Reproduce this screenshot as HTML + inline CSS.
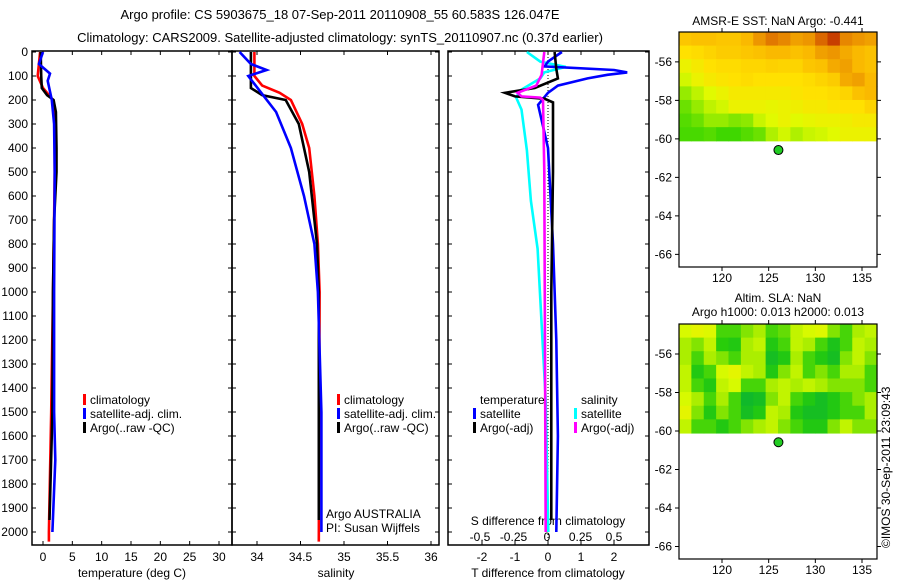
<!DOCTYPE html>
<html><head><meta charset="utf-8"><style>
body{margin:0;background:#fff;}
svg{display:block;font-family:"Liberation Sans",sans-serif;}
text{font-size:12px;fill:#000;}
</style></head><body>
<svg id="c" width="900" height="580">
<text x="340" y="19" text-anchor="middle" style="font-size:13px">Argo profile: CS 5903675_18 07-Sep-2011 20110908_55 60.583S 126.047E</text>
<text x="340" y="42" text-anchor="middle" style="font-size:13px">Climatology: CARS2009. Satellite-adjusted climatology: synTS_20110907.nc (0.37d earlier)</text>
<text x="778" y="25" text-anchor="middle">AMSR-E SST: NaN Argo: -0.441</text>
<text x="778" y="302" text-anchor="middle">Altim. SLA: NaN</text>
<text x="778" y="316" text-anchor="middle">Argo h1000: 0.013 h2000: 0.013</text>
<text x="0" y="0" transform="translate(890,548) rotate(-90)">©IMOS 30-Sep-2011 23:09:43</text>
</svg>
<script>
// ---- depth axis ----
const depthTicks=[0,100,200,300,400,500,600,700,800,900,1000,1100,1200,1300,1400,1500,1600,1700,1800,1900,2000];
// ---- temperature panel data ----
const tClimDepth=[0,100,150,200,300,500,700,1000,1500,2000,2040];
const tClimVal=[-0.5,-0.9,0,1.7,2.0,2.0,1.9,1.7,1.4,1.0,1.0];
const tSatDepth=[0,50,90,120,200,300,500,1000,1500,1700,2000];
const tSatVal=[0.0,-0.7,1.2,0.8,1.5,1.9,2.0,1.9,1.9,2.1,1.6];
const tArgoDepth=[0,100,150,180,200,250,400,500,700,1000,1500,1950];
const tArgoVal=[-0.4,-0.3,-0.2,0.7,1.8,2.2,2.3,2.3,1.9,1.7,1.6,1.1];
const tTicks=[0,5,10,15,20,25,30];
// ---- salinity panel data ----
const sClimDepth=[0,100,140,170,200,300,400,600,800,1000,2040];
const sClimVal=[33.97,33.97,34.06,34.26,34.39,34.52,34.6,34.66,34.7,34.72,34.71];
const sSatDepth=[0,50,75,100,180,250,400,600,800,1000,1500,2000];
const sSatVal=[33.8,33.93,34.11,33.9,34.07,34.22,34.39,34.54,34.66,34.7,34.74,34.74];
const sArgoDepth=[0,150,180,200,300,500,800,1000,1950];
const sArgoVal=[33.93,33.93,34.06,34.33,34.48,34.6,34.69,34.71,34.71];
const sTicks=[34,34.5,35,35.5,36];
// ---- difference panel data ----
const dTSatDepth=[0,40,60,75,85,95,110,140,170,220,400,800,1200,1600,2000];
const dTSatVal=[0.42,0,-0.1,2.0,2.4,1.8,1.2,0.3,0.0,-0.3,0.0,0.15,0.25,0.3,0.25];
const dTArgoDepth=[0,70,110,150,170,185,195,210,500,1000,1500,1950];
const dTArgoVal=[0.2,0.25,0.3,-0.4,-1.3,-1.0,-0.1,0.15,0.15,0.1,0.1,0.1];
const dSSatDepth=[0,40,62,85,110,160,190,240,410,620,820,1030,1450,2000];
const dSSatVal=[-0.15,-0.05,0.14,-0.02,-0.05,-0.2,-0.23,-0.19,-0.15,-0.12,-0.07,-0.05,-0.01,0.01];
const dSArgoDepth=[0,95,140,170,185,190,200,500,2000];
const dSArgoVal=[-0.02,-0.04,-0.08,-0.22,-0.19,-0.05,-0.03,-0.02,-0.01];
const dTTicks=[-2,-1,0,1,2];
const dSTicks=[-0.5,-0.25,0,0.25,0.5];
const dSTickLabels=["-0.5","-0.25","0","0.25","0.5"];
// ---- maps ----
const lonTicks=[120,125,130,135];
const latTicks=[-56,-58,-60,-62,-64,-66];
const floatLon=[126.047];
const floatLat=[-60.583];
const sstGrid=[
[.7,.72,.72,.7,.7,.75,.82,.88,.85,.8,.82,.9,.95,.85,.82,.8],
[.6,.62,.65,.68,.68,.7,.72,.75,.75,.72,.75,.8,.82,.78,.75,.72],
[.5,.55,.6,.62,.62,.64,.64,.66,.65,.65,.7,.72,.78,.8,.75,.72],
[.42,.5,.55,.58,.6,.62,.6,.6,.6,.6,.62,.65,.68,.78,.8,.75],
[.3,.38,.45,.5,.55,.55,.55,.55,.55,.58,.6,.6,.62,.65,.72,.75],
[.2,.3,.38,.42,.5,.5,.5,.48,.5,.52,.55,.55,.58,.6,.6,.65],
[.15,.2,.3,.3,.25,.28,.4,.45,.5,.45,.48,.5,.5,.52,.55,.55],
[.12,.12,.15,.1,.1,.15,.2,.35,.42,.35,.4,.42,.45,.5,.5,.5]];
const slaGrid=[
[.7,.8,.75,.3,.3,.4,.5,.3,.35,.6,.7,.75,.4,.3,.5,.6],
[.5,.4,.6,.25,.2,.5,.6,.2,.3,.6,.5,.3,.15,.3,.6,.5],
[.5,.3,.5,.4,.3,.5,.5,.1,.2,.5,.3,.2,.1,.4,.6,.4],
[.6,.2,.3,.7,.8,.6,.5,.2,.4,.6,.3,.4,.3,.5,.5,.3],
[.6,.3,.2,.6,.7,.3,.3,.5,.6,.5,.6,.5,.4,.4,.4,.3],
[.7,.5,.3,.5,.3,.05,.1,.4,.6,.3,.2,.1,.2,.3,.4,.5],
[.8,.4,.2,.4,.3,.1,.2,.6,.5,.2,.1,.1,.2,.3,.3,.5],
[.6,.3,.3,.2,.3,.4,.5,.6,.4,.3,.2,.2,.4,.6,.4,.4]];

const NS="http://www.w3.org/2000/svg";
const svg=document.getElementById('c');
function mk(tag,attrs,parent){const e=document.createElementNS(NS,tag);for(const k in attrs)e.setAttribute(k,attrs[k]);(parent||svg).appendChild(e);return e;}
function txt(x,y,s,anchor){const e=mk('text',{x:x,y:y,'text-anchor':anchor||'start'});e.textContent=s;return e;}

const PT=51,PB=545;
const yD=d=>52+d*0.24;
function xLin(v0,x0,v1,x1){return v=>x0+(v-v0)*(x1-x0)/(v1-v0);}
const xT=xLin(0,43,30,219);
const xS=xLin(34,257,36,431);
const xDT=xLin(0,548,2,614);
const xDS=xLin(0,547,0.5,614);

function panel(x0,x1,name){
  const r=mk('rect',{x:x0,y:PT,width:x1-x0,height:PB-PT,fill:'none',stroke:'#000','stroke-width':1.5});
  
  
  depthTicks.forEach(d=>{
    const t=mk('path',{d:`M${x0},${yD(d)}h4M${x1},${yD(d)}h-4`,stroke:'#000','stroke-width':1});
    
    
  });
}
panel(32,232,'temperature-panel');
panel(232,439,'salinity-panel');
panel(448,649,'difference-panel');
depthTicks.forEach(d=>{
  const t=txt(28,yD(d)+4,String(d),'end');
  
  
});
function xticks(ticks,labels,fx,y,name){
  ticks.forEach((v,i)=>{
    const x=fx(v);
    const p=mk('path',{d:`M${x},${PB}v-4M${x},${PT}v4`,stroke:'#000','stroke-width':1});
    
    
    const t=txt(x,y,labels[i],'middle');
    
    
  });
}
xticks(tTicks,tTicks.map(String),xT,561,'temperature');
xticks(sTicks,sTicks.map(String),xS,561,'salinity');
xticks(dTTicks,dTTicks.map(String),xDT,561,'t-diff');
dSTicks.forEach((v,i)=>{
  const t=txt(xDS(v),541,dSTickLabels[i],'middle');
  
  
});
let e;
e=txt(132,577,'temperature (deg C)','middle');
e=txt(336,577,'salinity','middle');
e=txt(548,577,'T difference from climatology','middle');
e=txt(548,525,'S difference from climatology','middle');
// zero dotted line
e=mk('line',{x1:xDT(0),x2:xDT(0),y1:PT,y2:PB,stroke:'#000','stroke-width':1,'stroke-dasharray':'1,2'});



function series(depths,vals,fx,color,name){
  const pts=depths.map((d,i)=>fx(vals[i]).toFixed(1)+','+yD(d).toFixed(1)).join(' ');
  const p=mk('polyline',{points:pts,fill:'none',stroke:color,'stroke-width':2.6,'stroke-linejoin':'miter'});
  
  
}
series(tClimDepth,tClimVal,xT,'#f00','temperature-climatology-line');
series(tArgoDepth,tArgoVal,xT,'#000','temperature-argo-line');
series(tSatDepth,tSatVal,xT,'#00f','temperature-satellite-line');
series(sClimDepth,sClimVal,xS,'#f00','salinity-climatology-line');
series(sArgoDepth,sArgoVal,xS,'#000','salinity-argo-line');
series(sSatDepth,sSatVal,xS,'#00f','salinity-satellite-line');
series(dSSatDepth,dSSatVal,xDS,'#0ff','s-diff-satellite-line');
series(dTSatDepth,dTSatVal,xDT,'#00f','t-diff-satellite-line');
series(dTArgoDepth,dTArgoVal,xDT,'#000','t-diff-argo-line');
series(dSArgoDepth,dSArgoVal,xDS,'#f0f','s-diff-argo-line');

function legend(x,y,items,name){
  items.forEach((it,i)=>{
    const yy=y+i*14;
    if(it[1]){const b=mk('rect',{x:x,y:yy-10,width:3,height:11,fill:it[1]});
      
      }
    const t=txt(x+7,yy,it[0]);
    
    
  });
}
legend(83,404,[['climatology','#f00'],['satellite-adj. clim.','#00f'],['Argo(..raw -QC)','#000']],'temperature-legend');
legend(337,404,[['climatology','#f00'],['satellite-adj. clim.','#00f'],['Argo(..raw -QC)','#000']],'salinity-legend');
legend(473,404,[['temperature',null],['satellite','#00f'],['Argo(-adj)','#000']],'t-diff-legend');
legend(574,404,[['salinity',null],['satellite','#0ff'],['Argo(-adj)','#f0f']],'s-diff-legend');
e=txt(326,518,'Argo AUSTRALIA');
e=txt(326,532,'PI: Susan Wijffels');

// maps
function lerpC(stops,v){
  for(let i=1;i<stops.length;i++){if(v<=stops[i][0]){const a=stops[i-1],b=stops[i];const f=(v-a[0])/(b[0]-a[0]);
    return 'rgb('+[1,2,3].map(k=>Math.round(a[k]+(b[k]-a[k])*f)).join(',')+')';}}
  const l=stops[stops.length-1];return `rgb(${l[1]},${l[2]},${l[3]})`;
}
const sstStops=[[0,20,205,0],[0.3,150,235,0],[0.45,225,250,0],[0.6,255,225,0],[0.75,250,185,0],[0.88,225,120,0],[1,180,20,0]];
const slaStops=[[0,10,180,50],[0.25,40,205,10],[0.45,160,235,0],[0.7,215,250,0],[1,255,235,0]];
function map(top,latTop,grid,stops,name){
  const L=679,R=877,B=top+235;
  const xL=xLin(120,722,135,862);
  const yL=v=>top+(latTop-v)*19.25;
  const rows=grid.length,cols=grid[0].length;
  const dataBottom=yL(-60.1);
  const cw=(R-L)/cols,ch=(dataBottom-top)/rows;
  grid.forEach((row,r)=>row.forEach((v,c)=>{
    const cell=mk('rect',{x:(L+c*cw).toFixed(2),y:(top+r*ch).toFixed(2),width:(cw+0.6).toFixed(2),height:(ch+0.6).toFixed(2),fill:lerpC(stops,v)});
    
    
  }));
  const fr=mk('rect',{x:L,y:top,width:R-L,height:B-top,fill:'none',stroke:'#000','stroke-width':1.2});
  
  
  latTicks.forEach(v=>{
    const y=yL(v);
    const p=mk('path',{d:`M${L},${y}h-4M${R},${y}h4`,stroke:'#000','stroke-width':1});
    
    
    const t=txt(L-7,y+4,String(v),'end');
    
    
  });
  lonTicks.forEach(v=>{
    const x=xL(v);
    const p=mk('path',{d:`M${x},${top}v-4M${x},${B}v4`,stroke:'#000','stroke-width':1});
    
    
    const t=txt(x,B+15,String(v),'middle');
    
    
  });
  const dot=mk('circle',{cx:xL(floatLon[0]),cy:yL(floatLat[0]),r:4.5,fill:'#2c2',stroke:'#000','stroke-width':1});
  
  
}
map(32,-54.45,sstGrid,sstStops,'sst-map');
map(324,-54.44,slaGrid,slaStops,'sla-map');
</script>
</body></html>
